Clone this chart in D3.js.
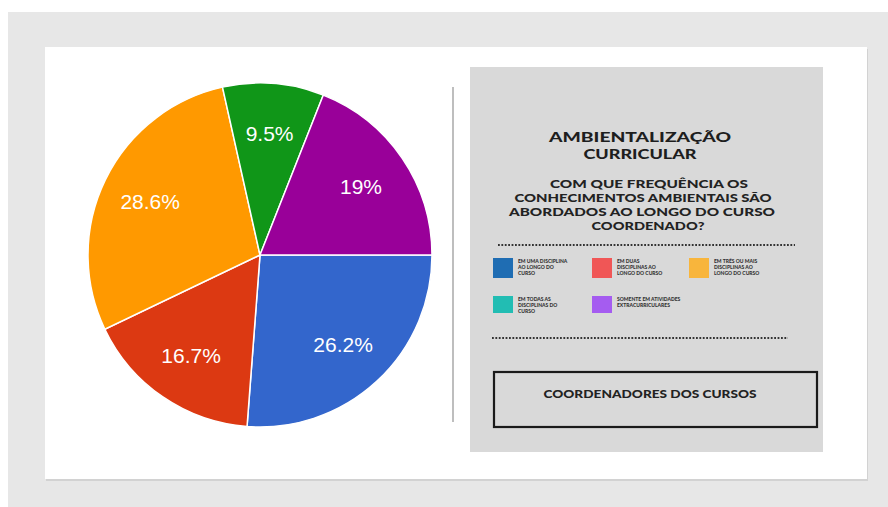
<!DOCTYPE html>
<html>
<head>
<meta charset="utf-8">
<script src="https://cdn.jsdelivr.net/npm/d3@7"></script>
<style>
  body { margin: 0; background: #fff; }
  svg { display: block; }
</style>
</head>
<body>
<div id="chart"></div>
<script>
// slices, clockwise from 3 o'clock
let sliceNames = ["Em uma disciplina", "Em duas disciplinas", "Em três ou mais", "Em todas", "Somente extracurriculares"];
let sliceValues = [26.2, 16.7, 28.6, 9.5, 19];
let sliceColors = ["#3366cc", "#dc3912", "#ff9900", "#109618", "#990099"];

// legend on the grey card
let legendLabels = [
  ["EM UMA DISCIPLINA", "AO LONGO DO", "CURSO"],
  ["EM DUAS", "DISCIPLINAS AO", "LONGO DO CURSO"],
  ["EM TRÊS OU MAIS", "DISCIPLINAS AO", "LONGO DO CURSO"],
  ["EM TODAS AS", "DISCIPLINAS DO", "CURSO"],
  ["SOMENTE EM ATIVIDADES", "EXTRACURRICULARES"]
];
let legendColors = ["#1f6db3", "#f05656", "#f8b53c", "#22bdb3", "#a55cf0"];

let titleLines = ["AMBIENTALIZAÇÃO", "CURRICULAR"];
let questionLines = ["COM QUE FREQUÊNCIA OS", "CONHECIMENTOS AMBIENTAIS SÃO", "ABORDADOS AO LONGO DO CURSO", "COORDENADO?"];
let boxText = "COORDENADORES DOS CURSOS";

let width = 888, height = 507;

let svg = d3.select("#chart").append("svg")
  .attr("width", width)
  .attr("height", height);

// frame
svg.append("rect").attr("x", 8).attr("y", 12).attr("width", 880).attr("height", 495).attr("fill", "#e7e7e7");
svg.append("rect").attr("x", 46).attr("y", 49).attr("width", 822).attr("height", 432).attr("fill", "#d2d2d2");
svg.append("rect").attr("x", 45).attr("y", 47).attr("width", 822).attr("height", 432).attr("fill", "#ffffff");

// divider
svg.append("line").attr("x1", 453).attr("x2", 453).attr("y1", 87).attr("y2", 422)
  .attr("stroke", "#a8a8a8").attr("stroke-width", 1.5);

// pie
let cx = 260, cy = 255, r = 172;
let pie = d3.pie().sort(null).startAngle(Math.PI / 2).endAngle(Math.PI / 2 + 2 * Math.PI);
let arc = d3.arc().innerRadius(0).outerRadius(r);
let labelArc = d3.arc().innerRadius(r * 0.71).outerRadius(r * 0.71);

let g = svg.append("g").attr("transform", `translate(${cx},${cy})`);
let arcs = pie(sliceValues);

g.selectAll("path").data(arcs).enter().append("path")
  .attr("d", arc)
  .attr("fill", (d, i) => sliceColors[i])
  .attr("stroke", "#ffffff")
  .attr("stroke-width", 1.5);

g.selectAll("text").data(arcs).enter().append("text")
  .attr("transform", d => `translate(${labelArc.centroid(d)})`)
  .attr("text-anchor", "middle")
  .attr("dy", "0.36em")
  .attr("fill", "#ffffff")
  .attr("font-family", "Arial, 'Liberation Sans', sans-serif")
  .attr("font-size", 21)
  .text(d => d.data + "%");

// grey card
svg.append("rect").attr("x", 470).attr("y", 67).attr("width", 353).attr("height", 385).attr("fill", "#d9d9d9");

let font = "Lato, 'DejaVu Sans', sans-serif";
let titleY = [142, 159];
let titleW = [182, 113];
titleLines.forEach((t, i) => {
  svg.append("text").attr("x", 640).attr("y", titleY[i])
    .attr("text-anchor", "middle").attr("font-family", font).attr("font-weight", 900)
    .attr("font-size", 14).attr("fill", "#1e1e1e")
    .attr("textLength", titleW[i]).attr("lengthAdjust", "spacingAndGlyphs")
    .text(t);
});

let qY = [188, 202, 216, 230];
let qW = [198, 257, 266, 113];
let qX = [649, 643, 642, 648];
questionLines.forEach((t, i) => {
  svg.append("text").attr("x", qX[i]).attr("y", qY[i])
    .attr("text-anchor", "middle").attr("font-family", font).attr("font-weight", 900)
    .attr("font-size", 12).attr("fill", "#222")
    .attr("textLength", qW[i]).attr("lengthAdjust", "spacingAndGlyphs")
    .text(t);
});

// dotted rules
[[498, 795, 245], [492, 788, 338]].forEach(l => {
  svg.append("line").attr("x1", l[0]).attr("x2", l[1]).attr("y1", l[2]).attr("y2", l[2])
    .attr("stroke", "#333").attr("stroke-width", 2.2).attr("stroke-dasharray", "1.8 1.6");
});

// legend
let legX = [493, 592, 689, 493, 592];
let legY = [258, 258, 258, 296, 296];
let legend = svg.append("g");
legendLabels.forEach((lines, i) => {
  legend.append("rect").attr("x", legX[i]).attr("y", legY[i]).attr("width", 20).attr("height", i < 3 ? 20 : 17)
    .attr("fill", legendColors[i]);
  lines.forEach((t, j) => {
    legend.append("text").attr("x", legX[i] + 25).attr("y", legY[i] + 5 + j * 6)
      .attr("font-family", font).attr("font-weight", 900)
      .attr("font-size", 5).attr("fill", "#333")
      .text(t);
  });
});

// bottom box
svg.append("rect").attr("x", 494).attr("y", 372).attr("width", 323).attr("height", 55)
  .attr("fill", "none").attr("stroke", "#1a1a1a").attr("stroke-width", 2.2);
svg.append("text").attr("x", 650).attr("y", 398)
  .attr("text-anchor", "middle").attr("font-family", font).attr("font-weight", 900)
  .attr("font-size", 12).attr("fill", "#222")
  .attr("textLength", 213).attr("lengthAdjust", "spacingAndGlyphs")
  .text(boxText);
</script>
</body>
</html>
